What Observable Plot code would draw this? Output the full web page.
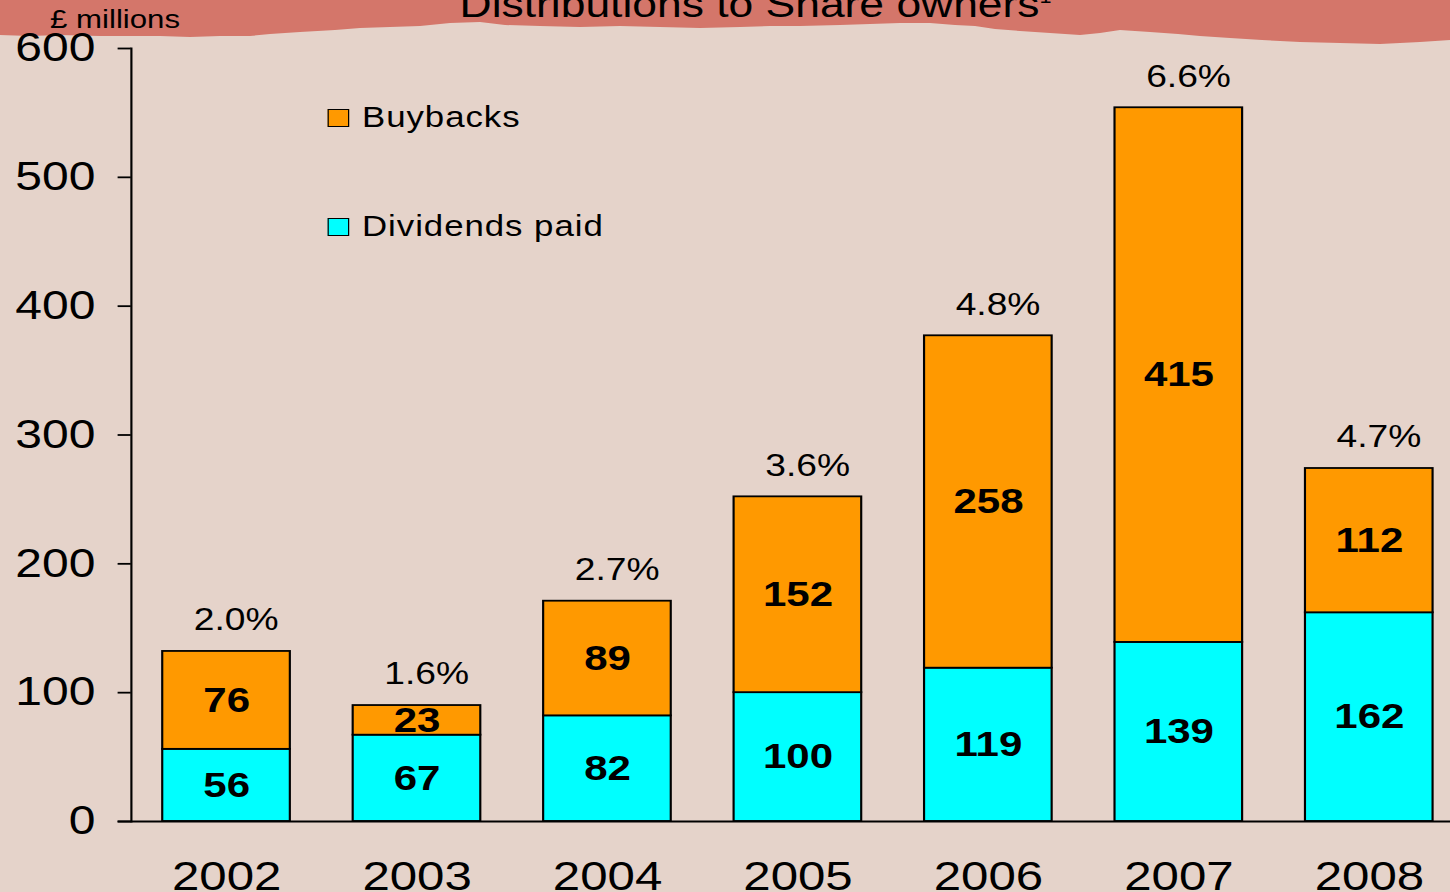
<!DOCTYPE html>
<html><head><meta charset="utf-8">
<script src="https://cdn.jsdelivr.net/npm/d3@7"></script>
<script src="https://cdn.jsdelivr.net/npm/@observablehq/plot@0.6"></script>
<style>
html,body{margin:0;padding:0;overflow:hidden;background:#e5d3ca;}
#stage{position:relative;width:1450px;height:892px;overflow:hidden;background:#e5d3ca;font-family:"Liberation Sans",Arial,sans-serif;color:#000;}
#band{position:absolute;left:0;top:0;width:1450px;height:60px;background:#d4766a;
 clip-path:polygon(0 0,1450px 0,1450px 40px,1420px 42px,1380px 44px,1340px 43px,1300px 42px,1262px 40px,1230px 38px,1200px 36px,1178px 34px,1150px 32px,1120px 30px,1100px 33px,1080px 35px,1050px 33px,1020px 31px,995px 29px,975px 26px,955px 25px,930px 23px,900px 23px,870px 24px,840px 25px,800px 26px,770px 26px,740px 27px,700px 28px,660px 27px,620px 26px,580px 27px,540px 26px,505px 25px,480px 22px,450px 23px,420px 26px,390px 27px,360px 28px,335px 30px,300px 32px,270px 34px,250px 36px,220px 36px,190px 37px,160px 36px,130px 36px,100px 36px,60px 35px,30px 36px,0 35px);}
#chart{position:absolute;left:0;top:0;width:1220px;height:892px;transform:scaleX(1.2);transform-origin:0 0;}
#chart svg{position:absolute;left:0;top:0;overflow:visible;}
.txt{position:absolute;white-space:nowrap;line-height:1;}
.sw{position:absolute;width:18px;height:18px;box-sizing:border-box;border:1.5px solid #000;}
</style></head>
<body>
<div id="stage">
  <div id="band"></div>
  <div id="chart">
    <div class="txt" style="left:383px;top:-14px;font-size:37px;">Distributions to Share owners<span style="font-size:18px;vertical-align:14px;">1</span></div>
    <div class="txt" style="left:41.7px;top:6px;font-size:26px;">£ millions</div>
  </div>
</div>
<script>
const years = ["2002","2003","2004","2005","2006","2007","2008"];
const dividends = [56,67,82,100,119,139,162];
const buybacks = [76,23,89,152,258,415,112];
const yieldLabels = ["2.0%","1.6%","2.7%","3.6%","4.8%","6.6%","4.7%"];
const seriesNames = ["Dividends paid","Buybacks"];
const seriesColors = ["#00ffff","#ff9900"];
const yTicks = [0,100,200,300,400,500,600];

const rows = [];
years.forEach((y,i)=>{
  rows.push({year:y, series:"Dividends paid", value:dividends[i]});
  rows.push({year:y, series:"Buybacks", value:buybacks[i]});
});
const totals = years.map((y,i)=>({year:y, total:dividends[i]+buybacks[i], pct:yieldLabels[i]}));

const chart = Plot.plot({
  width: 1220, height: 892,
  marginLeft: 109, marginRight: 0, marginTop: 48, marginBottom: 71,
  x: {domain: years, paddingInner: 0.33, paddingOuter: 0.165, round: false, axis: null},
  y: {domain: [0,600], axis: null},
  color: {domain: seriesNames, range: seriesColors},
  style: {fontFamily: "'Liberation Sans', Arial, sans-serif", background: "transparent", color: "#000", overflow: "visible"},
  marks: [
    Plot.barY(rows, {x:"year", y:"value", fill:"series", z:"series", stroke:"#000", strokeWidth:1.8}),
    Plot.text(rows, Plot.stackY({x:"year", y:"value", z:"series", text:d=>String(d.value), fontWeight:"bold", fontSize:35, fill:"#000"})),
    Plot.text(totals, {x:"year", y:"total", text:"pct", dy:-31, dx:8, fontSize:31, fill:"#000"}),
    Plot.axisY({ticks: yTicks, tickSize: 11, tickPadding: 19, fontSize: 40, label: null, strokeWidth: 1.8, tickFormat: d=>String(d)}),
    Plot.axisX({tickSize: 0, tickPadding: 39, fontSize: 41, label: null}),
    Plot.frame({anchor: "left", strokeWidth: 1.8}),
    Plot.ruleY([0], {insetLeft: -11, strokeWidth: 1.8})
  ]
});
const host = document.getElementById("chart");
host.insertBefore(chart, host.firstChild);

// legend (top entry is Buybacks)
const legendOrder = [1,0];
const legendTops = [109,218];
legendOrder.forEach((k,j)=>{
  const sw = document.createElement("div");
  sw.className = "sw";
  sw.style.left = "272.5px";
  sw.style.top = legendTops[j] + "px";
  sw.style.background = seriesColors[k];
  host.appendChild(sw);
  const t = document.createElement("div");
  t.className = "txt";
  t.style.left = "301.7px";
  t.style.top = (legendTops[j] - 6) + "px";
  t.style.fontSize = "29px";
  t.style.letterSpacing = "0.8px";
  t.textContent = seriesNames[k];
  host.appendChild(t);
});
</script>
</body></html>
